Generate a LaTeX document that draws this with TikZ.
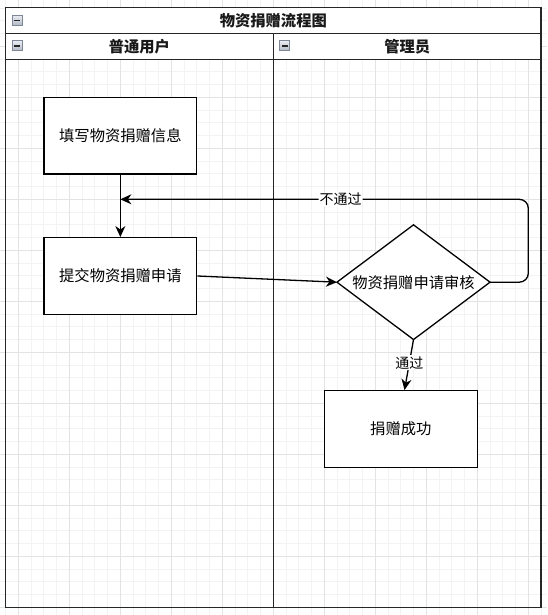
\documentclass[tikz,border=0pt]{standalone}
\usepackage{fontspec}
\setmainfont{Noto Sans CJK SC}
\usetikzlibrary{arrows.meta,shapes.geometric}
\definecolor{gridminor}{HTML}{F3F3F3}
\definecolor{gridmajor}{HTML}{E3E3E3}
\definecolor{framec}{HTML}{262626}
\definecolor{iconborder}{HTML}{7E8796}
\definecolor{icontop}{HTML}{E9ECF1}
\definecolor{iconbot}{HTML}{B2B9C6}
\begin{document}
\begin{tikzpicture}[x=1pt,y=-1pt,
  box/.style={draw=black, line width=1.3pt, fill=white, minimum width=152.7pt, minimum height=76.6pt, inner sep=0pt, font=\fontsize{15.3}{18}\selectfont},
  decarea/.style={rectangle, minimum width=152.7pt, minimum height=114.3pt, inner sep=0pt, font=\fontsize{15.3}{18}\selectfont},
  decline/.style={draw=black, line width=1.3pt, fill=white, line join=miter},
  flow/.style={draw=black, line width=1.3pt, -{Stealth[length=11pt,width=10pt,inset=3.5pt]}},
  elabel/.style={fill=white, inner sep=1pt, font=\fontsize{14}{16}\selectfont},
  hdr/.style={font=\bfseries\fontsize{15.3}{18}\selectfont, inner sep=0pt, text=black!90},
  iconbox/.style={draw=iconborder, line width=0.8pt, top color=icontop, bottom color=iconbot, minimum width=10pt, minimum height=10pt, inner sep=0pt,
    path picture={\draw[black!85, line width=1.5pt] ([xshift=1.7pt]path picture bounding box.west) -- ([xshift=-1.7pt]path picture bounding box.east);}},
  frame/.style={draw=framec, line width=1.3pt}
]
\useasboundingbox (0,0) rectangle (547,615);
% background grid
\foreach \k in {0,...,42}{\pgfmathsetmacro\gx{5.55+12.75*\k}\draw[gridminor, line width=1pt] (\gx,0) -- (\gx,615);}
\foreach \k in {0,...,47}{\pgfmathsetmacro\gy{607.3-12.75*\k}\draw[gridminor, line width=1pt] (0,\gy) -- (547,\gy);}
\foreach \k in {1,5,...,41}{\pgfmathsetmacro\gx{5.55+12.75*\k}\draw[gridmajor, line width=1pt] (\gx,0) -- (\gx,615);}
\foreach \k in {0,4,...,44}{\pgfmathsetmacro\gy{607.3-12.75*\k}\draw[gridmajor, line width=1pt] (0,\gy) -- (547,\gy);}
% pool frame
\fill[white] (5.55,7.7) rectangle (541.05,59.7);
\draw[frame] (5.55,7.7) rectangle (541.05,607.3);
\draw[frame] (5.55,33.7) -- (541.05,33.7);
\draw[frame] (5.55,59.7) -- (541.05,59.7);
\draw[frame] (273.3,33.7) -- (273.3,607.3);
% headers
\node[hdr] (title) at (273.3,20.9) {物资捐赠流程图};
\node[hdr] (lane1) at (139.4,46.9) {普通用户};
\node[hdr] (lane2) at (407.2,46.9) {管理员};
\node[iconbox] (ic0) at (17,20.3) {};
\node[iconbox] (ic1) at (17,45.9) {};
\node[iconbox] (ic2) at (284.8,45.9) {};
% flow nodes
\node[box] (b1) at (120.35,135.65) {填写物资捐赠信息};
\node[box] (b2) at (120.35,276) {提交物资捐赠申请};
\node[decarea] (dia) at (413.5,282.2) {};
\draw[decline] (dia.west) -- (dia.north) -- (dia.east) -- (dia.south) -- cycle;
\node[decarea] (diatext) at (dia.center) {物资捐赠申请审核};
\node[box] (b3) at (400.8,429) {捐赠成功};
\coordinate (lp) at (528.3,199.3);
\coordinate (j) at (b1.south |- lp);
% connectors
\draw[flow] (b1.south) -- (b2.north);
\draw[flow] (b2.east) -- (dia.west);
\draw[flow, rounded corners=9pt] (dia.east) -- (dia.east -| lp) -- (lp) -- node[elabel, pos=0.46] (l1) {不通过} (j);
\draw[flow] (dia.south) -- node[elabel, pos=0.46] (l2) {通过} ([xshift=-9pt]dia.south |- b3.north);
\end{tikzpicture}
\end{document}
